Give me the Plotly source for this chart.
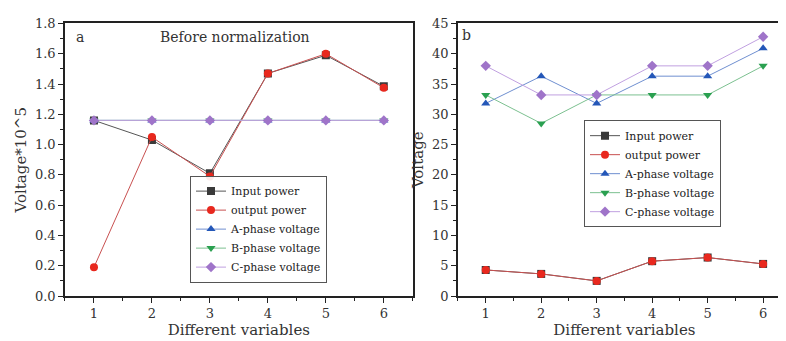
import plotly.graph_objects as go
from plotly.subplots import make_subplots

variables = [1, 2, 3, 4, 5, 6]
series_names = ["Input power", "output power", "A-phase voltage", "B-phase voltage", "C-phase voltage"]

# Panel a: before normalization (Voltage*10^5)
a_input = [1.16, 1.03, 0.81, 1.47, 1.59, 1.385]
a_output = [0.19, 1.05, 0.79, 1.47, 1.60, 1.375]
a_phaseA = [1.16, 1.16, 1.16, 1.16, 1.16, 1.16]
a_phaseB = [1.16, 1.16, 1.16, 1.16, 1.16, 1.16]
a_phaseC = [1.16, 1.16, 1.16, 1.16, 1.16, 1.16]

# Panel b
b_input = [4.3, 3.65, 2.5, 5.75, 6.35, 5.3]
b_output = [4.3, 3.65, 2.5, 5.75, 6.35, 5.3]
b_phaseA = [31.8, 36.3, 31.8, 36.3, 36.3, 40.9]
b_phaseB = [33.2, 28.5, 33.2, 33.2, 33.2, 38.0]
b_phaseC = [38.0, 33.2, 33.2, 38.0, 38.0, 42.8]

colors = ["#3a3a3a", "#e8281e", "#2457b8", "#2aa050", "#9f74c9"]
line_colors = ["#555555", "#c85050", "#6f8fd0", "#7cc090", "#c0a0e0"]
symbols = ["square", "circle", "triangle-up", "triangle-down", "diamond"]

FONT = "DejaVu Serif"

fig = make_subplots(rows=1, cols=2)

a_data = [a_input, a_output, a_phaseA, a_phaseB, a_phaseC]
b_data = [b_input, b_output, b_phaseA, b_phaseB, b_phaseC]

for i, (name, ys) in enumerate(zip(series_names, a_data)):
    fig.add_trace(go.Scatter(
        x=variables, y=ys, name=name, mode="lines+markers",
        line=dict(color=line_colors[i], width=1),
        marker=dict(symbol=symbols[i], size=8, color=colors[i]),
        legend="legend",
    ), row=1, col=1)

for i, (name, ys) in enumerate(zip(series_names, b_data)):
    fig.add_trace(go.Scatter(
        x=variables, y=ys, name=name, mode="lines+markers",
        line=dict(color=line_colors[i], width=1),
        marker=dict(symbol=symbols[i], size=8, color=colors[i]),
        legend="legend2",
    ), row=1, col=2)

axis_common = dict(
    showline=True, linecolor="#222", linewidth=1.5, mirror=True,
    ticks="outside", ticklen=5, tickcolor="#222", tickwidth=1,
    showgrid=False, zeroline=False,
    tickfont=dict(family=FONT, size=13, color="#333"),
    minor=dict(ticks="outside", ticklen=3, tickcolor="#222", showgrid=False),
)
title_font = dict(family=FONT, size=15, color="#333")

ydom = [0.138, 0.974]
fig.update_xaxes(axis_common)
fig.update_yaxes(axis_common)

fig.update_layout(
    xaxis=dict(domain=[0.0725, 0.515], range=[0.5, 6.5], dtick=1, tick0=1,
               minor=dict(dtick=0.5),
               title=dict(text="Different variables", font=title_font, standoff=2)),
    yaxis=dict(domain=ydom, range=[0, 1.8], dtick=0.2, tickformat=".1f",
               minor=dict(dtick=0.1),
               title=dict(text="Voltage*10^5", font=title_font, standoff=5)),
    xaxis2=dict(domain=[0.5725, 0.996], range=[0.5, 6.5], dtick=1, tick0=1,
                minor=dict(dtick=0.5),
                title=dict(text="Different variables", font=title_font, standoff=2)),
    yaxis2=dict(domain=ydom, range=[0, 45], dtick=5,
                minor=dict(dtick=2.5),
                title=dict(text="Voltage", font=title_font, standoff=5)),
)

legend_common = dict(
    bgcolor="rgba(255,255,255,0.9)", bordercolor="#555", borderwidth=1,
    font=dict(family=FONT, size=11, color="#222"),
    xanchor="left", yanchor="top", tracegroupgap=0, itemwidth=30,
)
fig.update_layout(
    legend=dict(legend_common, x=182 / 786, y=1 - 168 / 341),
    legend2=dict(legend_common, x=576 / 786, y=1 - 110 / 341),
)

fig.add_annotation(text="a", xref="paper", yref="paper", x=66 / 786, y=1 - 23 / 341,
                   xanchor="left", yanchor="middle", showarrow=False,
                   font=dict(family=FONT, size=14, color="#333"))
fig.add_annotation(text="Before normalization", xref="paper", yref="paper", x=227 / 786, y=1 - 23 / 341,
                   xanchor="center", yanchor="middle", showarrow=False,
                   font=dict(family=FONT, size=14, color="#333"))
fig.add_annotation(text="b", xref="paper", yref="paper", x=452 / 786, y=1 - 21 / 341,
                   xanchor="left", yanchor="middle", showarrow=False,
                   font=dict(family=FONT, size=14, color="#333"))

fig.update_layout(
    width=786, height=341, margin=dict(l=0, r=0, t=0, b=0),
    paper_bgcolor="white", plot_bgcolor="white", showlegend=True,
)

fig.write_html("out.html")
